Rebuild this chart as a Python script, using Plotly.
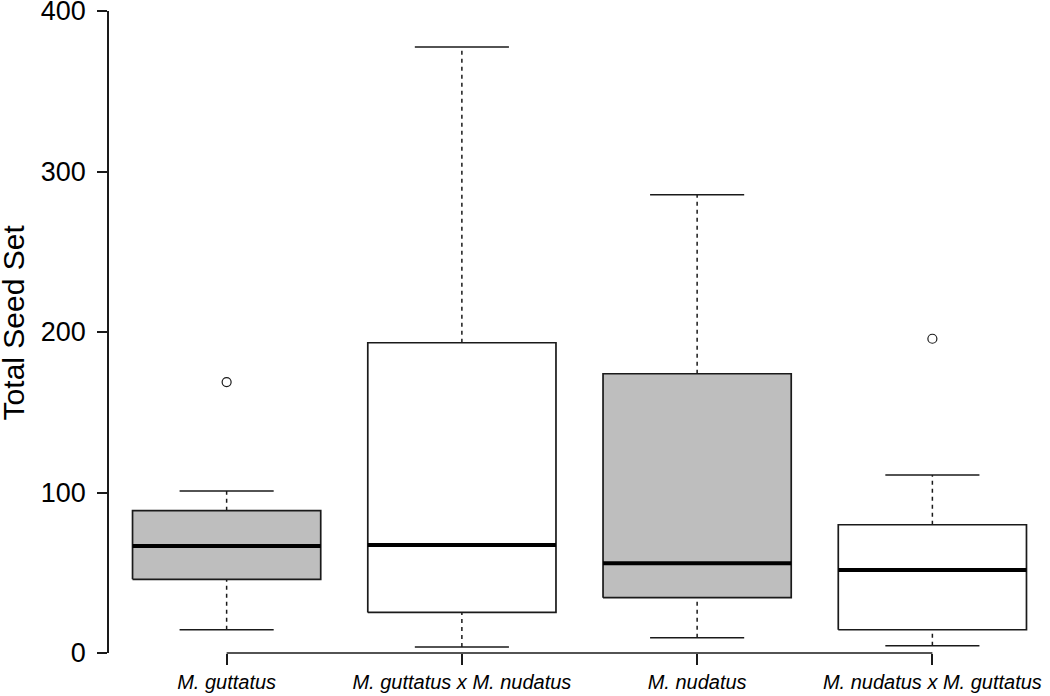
import plotly.graph_objects as go

categories = ["M. guttatus", "M. guttatus x M. nudatus", "M. nudatus", "M. nudatus x M. guttatus"]
lower_whisker = [14.5, 3.7, 9.5, 4.5]
q1 = [45.9, 25.3, 34.5, 14.5]
median = [66.7, 67.3, 55.9, 51.7]
q3 = [88.7, 193.3, 174.0, 79.9]
upper_whisker = [101.0, 377.6, 285.5, 110.9]
outliers = [[168.8], [], [], [195.8]]
fills = ["#BEBEBE", "#FFFFFF", "#BEBEBE", "#FFFFFF"]
y_ticks = [0, 100, 200, 300, 400]
y_title = "Total Seed Set"

FONT = "Liberation Sans, Arial, Helvetica, sans-serif"
INK = "#1a1a1a"
half_box = 0.4
half_cap = 0.2

fig = go.Figure()
positions = list(range(1, len(categories) + 1))

# dashed whiskers
wx, wy = [], []
for p, lo, a, b, hi in zip(positions, lower_whisker, q1, q3, upper_whisker):
    wx += [p, p, None, p, p, None]
    wy += [b, hi, None, lo, a, None]
fig.add_trace(go.Scatter(x=wx, y=wy, mode="lines", line=dict(color=INK, width=1.5, dash="4px,4px"),
                         hoverinfo="skip", showlegend=False))

# caps
cx, cy = [], []
for p, lo, hi in zip(positions, lower_whisker, upper_whisker):
    cx += [p - half_cap, p + half_cap, None, p - half_cap, p + half_cap, None]
    cy += [hi, hi, None, lo, lo, None]
fig.add_trace(go.Scatter(x=cx, y=cy, mode="lines", line=dict(color=INK, width=1.5),
                         hoverinfo="skip", showlegend=False))

# boxes
for p, a, b, f in zip(positions, q1, q3, fills):
    fig.add_trace(go.Scatter(
        x=[p - half_box, p + half_box, p + half_box, p - half_box, p - half_box],
        y=[a, a, b, b, a], mode="lines", fill="toself", fillcolor=f,
        line=dict(color=INK, width=1.7), hoverinfo="skip", showlegend=False))

# medians
mx, my = [], []
for p, m in zip(positions, median):
    mx += [p - half_box, p + half_box, None]
    my += [m, m, None]
fig.add_trace(go.Scatter(x=mx, y=my, mode="lines", line=dict(color="black", width=4),
                         hoverinfo="skip", showlegend=False))

# outliers
ox, oy = [], []
for p, outs in zip(positions, outliers):
    for o in outs:
        ox.append(p)
        oy.append(o)
fig.add_trace(go.Scatter(x=ox, y=oy, mode="markers", cliponaxis=False,
                         marker=dict(symbol="circle-open", size=9, color=INK, line=dict(width=1.2)),
                         hoverinfo="skip", showlegend=False))

# R-style x axis line from first to last category
fig.add_shape(type="line", xref="x", yref="paper", x0=positions[0], x1=positions[-1], y0=0, y1=0,
              line=dict(color=INK, width=1.5))

# y-axis title
fig.add_annotation(text=y_title, xref="paper", yref="paper", x=-0.102, y=0.515,
                   xanchor="center", yanchor="middle", textangle=-90, showarrow=False,
                   font=dict(size=30, family=FONT, color="black"))

fig.update_layout(
    width=1050, height=696,
    margin=dict(l=109, r=0, t=11, b=43),
    paper_bgcolor="white", plot_bgcolor="white",
    font=dict(family=FONT, color="black"),
    xaxis=dict(range=[0.5, 4.5], showgrid=False, zeroline=False, showline=False, automargin=False,
               ticks="outside", ticklen=11, tickwidth=1.5, tickcolor=INK,
               tickvals=positions, ticktext=["<i>%s</i>" % c for c in categories],
               ticklabeloverflow="allow",
               tickfont=dict(size=20, family=FONT, color="black")),
    yaxis=dict(range=[0, 400], showgrid=False, zeroline=False, showline=True, automargin=False,
               linecolor=INK, linewidth=1.5, ticks="outside", ticklen=10, tickwidth=1.5,
               tickcolor=INK, tickvals=y_ticks, ticklabelstandoff=6, ticklabeloverflow="allow",
               tickfont=dict(size=27, family=FONT, color="black")),
)

fig.write_html("out.html", config={"displayModeBar": False},
               post_script="document.body.style.margin='0';document.body.style.overflow='hidden';")
